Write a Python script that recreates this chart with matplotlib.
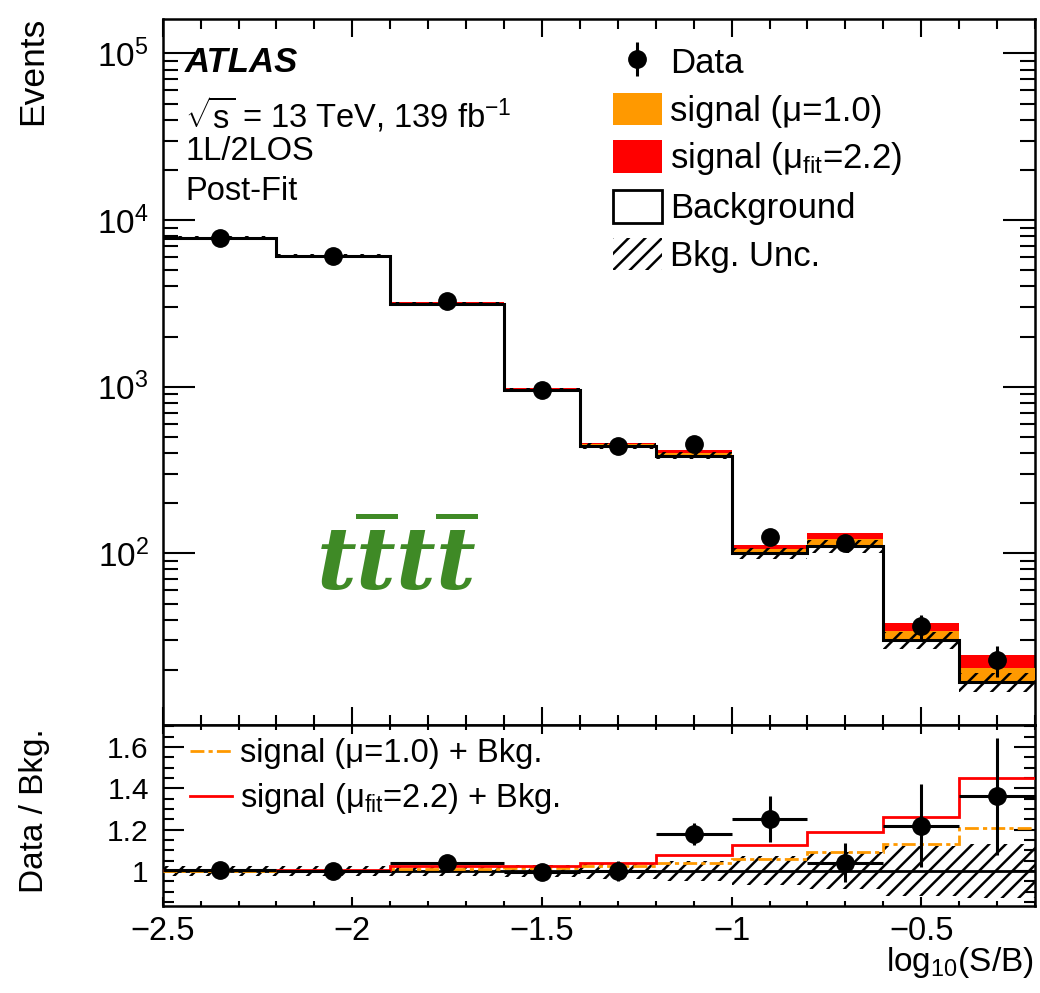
import numpy as np
import matplotlib
matplotlib.use("Agg")
import matplotlib.pyplot as plt
from matplotlib.patches import Patch
from matplotlib.lines import Line2D
from matplotlib.ticker import (MultipleLocator, FixedLocator, FixedFormatter,
                               FuncFormatter, LogLocator, NullFormatter)

# ============================================================================
# DATA
# ============================================================================

bin_edges = [-2.5, -2.2, -1.9, -1.6, -1.4, -1.2, -1.0, -0.8, -0.6, -0.4, -0.2]
background = [7780, 6100, 3150, 955, 443, 386, 100, 111, 30.2, 16.9]
bkg_rel_unc = [0.025, 0.025, 0.025, 0.03, 0.04, 0.05, 0.07, 0.09, 0.12, 0.13]
signal_mu1 = [15.6, 12.2, 31.5, 11.5, 11.5, 15.4, 6.0, 10.3, 3.9, 3.5]
signal_fit = [38.9, 30.5, 69.3, 23.9, 16.4, 29.7, 12.6, 21.1, 7.9, 7.6]
data_obs = [7830, 6100, 3270, 952, 443, 455, 125, 115.5, 36.8, 23.0]
data_err = [88, 78, 57, 31, 21, 21, 11.2, 10.7, 6.1, 4.8]

ratio_ticks = [1.0, 1.2, 1.4, 1.6]
ratio_ticklabels = ["1", "1.2", "1.4", "1.6"]

ORANGE = "#ff9900"
RED = "#ff0000"
GREEN = "#3f8a26"
HATCH = "//"

# ============================================================================
# STYLE
# ============================================================================

plt.rcParams['font.family'] = 'Liberation Sans'
plt.rcParams['mathtext.fontset'] = 'custom'
plt.rcParams['mathtext.rm'] = 'Liberation Sans'
plt.rcParams['mathtext.it'] = 'Liberation Sans:italic'
plt.rcParams['mathtext.sf'] = 'Liberation Sans'
plt.rcParams['mathtext.bf'] = 'DejaVu Serif:italic:bold'
plt.rcParams['hatch.linewidth'] = 1.8
plt.rcParams['xtick.direction'] = 'in'
plt.rcParams['ytick.direction'] = 'in'
plt.rcParams['xtick.top'] = True
plt.rcParams['ytick.right'] = True
plt.rcParams['axes.linewidth'] = 1.8

W, H = 1040, 993


def fpos(x, y):
    """pixel position (from top-left) -> figure fraction"""
    return x / W, 1 - y / H


edges = np.array(bin_edges)
bkg = np.array(background)
unc = np.array(bkg_rel_unc)
s1 = np.array(signal_mu1)
sfit = np.array(signal_fit)
data = np.array(data_obs)
derr = np.array(data_err)
centers = 0.5 * (edges[1:] + edges[:-1])
half = 0.5 * np.diff(edges)

fig = plt.figure(figsize=(W / 100, H / 100), dpi=100)
ax = fig.add_axes([162.7 / W, 1 - 725 / H, (1035 - 162.7) / W, (725 - 19) / H])
rax = fig.add_axes([162.7 / W, 1 - 906 / H, (1035 - 162.7) / W, (906 - 725) / H])

# ============================================================================
# MAIN PANEL
# ============================================================================

ax.stairs(bkg + sfit, edges, baseline=bkg, fill=True, color=RED, lw=0, zorder=2)
ax.stairs(bkg + s1, edges, baseline=bkg, fill=True, color=ORANGE, lw=0, zorder=3)
ax.stairs(bkg * (1 + unc), edges, baseline=bkg * (1 - unc), fill=True,
          facecolor='none', edgecolor='black', hatch=HATCH, lw=0, zorder=4)
ax.stairs(bkg, edges, baseline=None, color='black', lw=2.2, zorder=5)
eb = ax.errorbar(centers, data, yerr=derr, fmt='o', color='black', ms=12.5,
                 elinewidth=2.2, capsize=0, zorder=6)

ax.set_xlim(-2.5, -0.2)
ax.set_yscale('log')
ax.set_ylim(9.33, 1.61e5)
ax.xaxis.set_major_locator(MultipleLocator(0.5))
ax.xaxis.set_minor_locator(MultipleLocator(0.1))
ax.yaxis.set_major_locator(FixedLocator([1e2, 1e3, 1e4, 1e5]))
ax.yaxis.set_minor_locator(LogLocator(base=10, subs=np.arange(2, 10), numticks=20))
ax.yaxis.set_minor_formatter(NullFormatter())
ax.tick_params(axis='x', which='major', length=13, width=1.5, labelbottom=False)
ax.tick_params(axis='x', which='minor', length=7, width=1.5)
ax.tick_params(axis='y', which='major', length=23, width=1.5, labelsize=24, pad=10)
ax.tick_params(axis='y', which='minor', length=11, width=1.5)

legend_handles = [
    eb,
    Patch(facecolor=ORANGE, edgecolor='none'),
    Patch(facecolor=RED, edgecolor='none'),
    Patch(facecolor='white', edgecolor='black', lw=2),
    Patch(facecolor='none', edgecolor='black', hatch=HATCH, lw=0),
]
legend_labels = ['Data', 'signal (μ=1.0)', r'signal (μ$_{\rm fit}$=2.2)',
                 'Background', 'Bkg. Unc.']
ax.legend(legend_handles, legend_labels, loc='upper left',
          bbox_to_anchor=fpos(613, 45), bbox_transform=fig.transFigure,
          frameon=False, fontsize=25, handlelength=1.4, handleheight=1.07,
          handletextpad=0.25, labelspacing=0.36, borderpad=0, borderaxespad=0)

# labels in the top-left corner
fig.text(*fpos(185, 63), 'ATLAS', fontsize=25, fontweight='bold',
         fontstyle='italic', va='center')
fig.text(*fpos(185, 115), r'$\sqrt{\mathrm{s}}$ = 13 TeV, 139 fb$^{-1}$',
         fontsize=23.5, va='center')
fig.text(*fpos(185, 152), '1L/2LOS', fontsize=23.5, va='center')
fig.text(*fpos(185, 191), 'Post-Fit', fontsize=23.5, va='center')

fig.text(*fpos(316, 590), r'$\mathbf{t\overline{t}t\overline{t}}$', color=GREEN,
         fontsize=62, ha='left', va='baseline')

# ============================================================================
# RATIO PANEL
# ============================================================================

rax.stairs(1 + unc, edges, baseline=1 - unc, fill=True, facecolor='none',
           edgecolor='black', hatch=HATCH, lw=0, zorder=2)
rax.axhline(1, color='black', lw=2, zorder=3)
rax.stairs((bkg + s1) / bkg, edges, baseline=None, color=ORANGE, lw=2,
           linestyle=(0, (5, 1.5, 1.5, 1.5)), zorder=4)
rax.stairs((bkg + sfit) / bkg, edges, baseline=None, color=RED, lw=2, zorder=4)
rax.errorbar(centers, data / bkg, xerr=half, yerr=derr / bkg, fmt='o',
             color='black', ms=12.5, elinewidth=2.2, capsize=0, zorder=6)

rax.set_xlim(-2.5, -0.2)
rax.set_ylim(0.83, 1.707)
rax.xaxis.set_major_locator(MultipleLocator(0.5))
rax.xaxis.set_minor_locator(MultipleLocator(0.1))
rax.xaxis.set_major_formatter(FuncFormatter(lambda v, p: ('%g' % v).replace('-', '\u2212')))
rax.yaxis.set_major_locator(FixedLocator(ratio_ticks))
rax.yaxis.set_major_formatter(FixedFormatter(ratio_ticklabels))
rax.yaxis.set_minor_locator(MultipleLocator(0.05))
rax.tick_params(axis='x', which='major', length=6.5, width=1.5, labelsize=23.5, pad=7)
rax.tick_params(axis='x', which='minor', length=3.5, width=1.5)
rax.tick_params(axis='y', which='major', length=15, width=1.5, labelsize=21.5, pad=10)
rax.tick_params(axis='y', which='minor', length=8, width=1.5)

ratio_handles = [
    Line2D([], [], color=ORANGE, lw=2, linestyle=(0, (5, 1.5, 1.5, 1.5))),
    Line2D([], [], color=RED, lw=2),
]
rax.legend(ratio_handles, ['signal (μ=1.0) + Bkg.', r'signal (μ$_{\rm fit}$=2.2) + Bkg.'],
           loc='upper left', bbox_to_anchor=fpos(190, 738),
           bbox_transform=fig.transFigure, frameon=False, fontsize=23.5,
           handlelength=1.29, handletextpad=0.25, labelspacing=0.37,
           borderpad=0, borderaxespad=0)

# axis titles
fig.text(*fpos(33, 17), 'Events', rotation=90, ha='center', va='top', fontsize=25.5)
fig.text(*fpos(35, 728), 'Data / Bkg.', rotation=90, ha='center', va='top', fontsize=24)
fig.text(*fpos(1034, 962), r'log$_{10}$(S/B)', ha='right', va='center', fontsize=24)

fig.savefig('out.png', dpi=100)
